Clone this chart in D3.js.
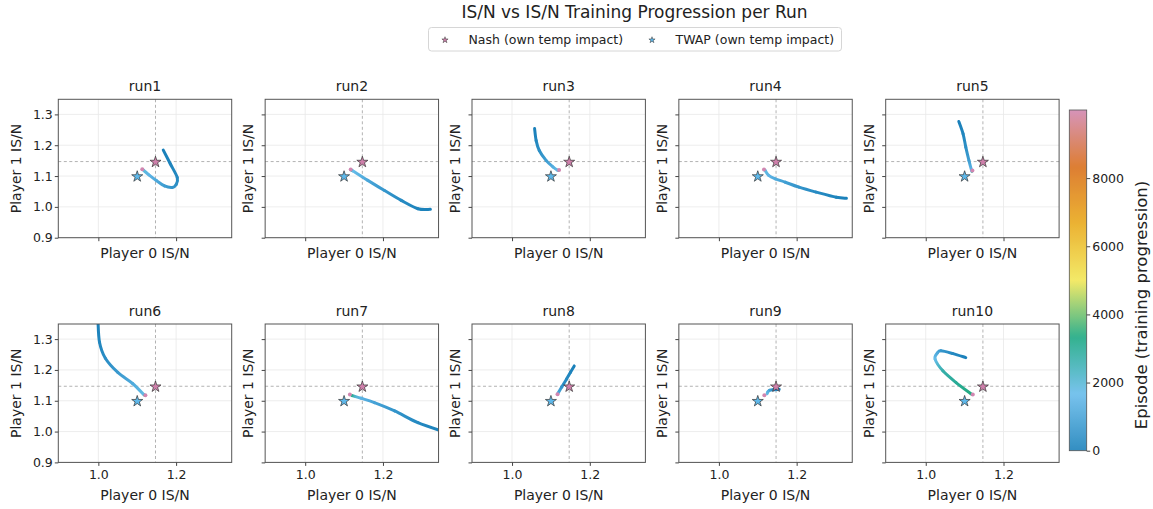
<!DOCTYPE html>
<html><head><meta charset="utf-8">
<script src="https://cdn.jsdelivr.net/npm/d3@7"></script>
<style>body{margin:0;background:#fff;} text{font-family:"DejaVu Sans",sans-serif;fill:#222;}</style>
</head><body><svg id="c" width="1153" height="509"></svg>
<script>
// ---------------- data ----------------
const runNames = ["run1","run2","run3","run4","run5","run6","run7","run8","run9","run10"];
// each point: [player0 IS/N, player1 IS/N, episode]
const run1 = [[1.167,1.184,0],[1.185,1.140,100],[1.203,1.095,250],[1.200,1.072,400],[1.190,1.063,550],[1.170,1.068,800],[1.150,1.085,1100],[1.130,1.104,1450],[1.116,1.119,1900],[1.114,1.121,3000],[1.113,1.122,9999]];
const run2 = [[1.322,0.992,0],[1.290,0.994,100],[1.247,1.021,300],[1.204,1.053,600],[1.161,1.086,1050],[1.122,1.117,1700],[1.119,1.119,3000],[1.117,1.121,9999]];
const run3 = [[1.058,1.254,0],[1.062,1.215,150],[1.070,1.183,400],[1.088,1.150,800],[1.105,1.130,1250],[1.117,1.119,1800],[1.119,1.119,3000],[1.121,1.120,9999]];
const run4 = [[1.328,1.028,0],[1.302,1.031,100],[1.250,1.048,300],[1.206,1.064,550],[1.171,1.080,850],[1.145,1.091,1150],[1.128,1.102,1450],[1.119,1.118,1850],[1.117,1.120,3000],[1.116,1.121,9999]];
const run5 = [[1.085,1.277,0],[1.096,1.237,150],[1.103,1.194,400],[1.111,1.151,800],[1.118,1.118,1500],[1.119,1.117,3000],[1.120,1.118,9999]];
const run6 = [[0.999,1.360,0],[1.003,1.290,150],[1.018,1.238,350],[1.050,1.192,700],[1.088,1.156,1150],[1.116,1.121,1800],[1.118,1.119,3000],[1.121,1.118,9999]];
const run7 = [[1.360,0.998,0],[1.290,1.029,250],[1.230,1.067,550],[1.178,1.094,950],[1.144,1.108,1400],[1.128,1.114,2100],[1.120,1.117,3200],[1.115,1.120,9999]];
const run8 = [[1.160,1.213,0],[1.150,1.192,100],[1.140,1.170,250],[1.128,1.145,500],[1.118,1.124,1100],[1.117,1.121,9999]];
const run9 = [[1.155,1.137,0],[1.140,1.136,300],[1.130,1.134,800],[1.126,1.129,1300],[1.124,1.123,1800],[1.117,1.118,9999]];
const run10 = [[1.103,1.240,0],[1.070,1.253,250],[1.039,1.262,600],[1.030,1.255,1100],[1.024,1.235,1700],[1.044,1.197,2700],[1.078,1.159,3000],[1.118,1.121,3400],[1.121,1.120,9999]];
const runs = [run1,run2,run3,run4,run5,run6,run7,run8,run9,run10];

const nashPoint = [1.147, 1.147];
const twapPoint = [1.100, 1.100];
const xTicks = [1.0, 1.2];
const yTicks = [0.9, 1.0, 1.1, 1.2, 1.3];
const cbTicks = [0, 2000, 4000, 6000, 8000];
const episodeMax = 9999;
const cmapColors = ["#0072B2","#56B4E9","#009E73","#F0E442","#E69F00","#D55E00","#CC79A7"];
const legendLabels = ["Nash (own temp impact)", "TWAP (own temp impact)"];

// ---------------- rendering ----------------
const svg = d3.select("#c");
const defs = svg.append("defs");
const cmap = d3.scaleLinear()
  .domain(cmapColors.map((c,i)=> i/(cmapColors.length-1)*episodeMax))
  .range(cmapColors).interpolate(d3.interpolateRgb);
const colorA = a => ep => d3.interpolateRgb("#ffffff", cmap(ep))(a);
const lineColor = colorA(0.9);
const cbColor = colorA(0.8);
const nashColor = d3.interpolateRgb("#ffffff","#CC79A7")(0.95);
const twapColor = d3.interpolateRgb("#ffffff","#56B4E9")(0.95);

const W = 173.4, H = 138.4;
const colLeft = c => 58.3 + c*206.85;
const rowTop = r => 99.3 + r*224.7;
const x = d3.scaleLinear().domain([0.897, 1.343]).range([0, W]);
const y = d3.scaleLinear().domain([0.9, 1.349]).range([H, 0]);
const star = d3.symbol().type(d3.symbolStar);

svg.append("text").attr("x", 634.5).attr("y", 18).attr("text-anchor","middle")
  .attr("font-size", 17).text("IS/N vs IS/N Training Progression per Run");

runs.forEach((run, k) => {
  const r = Math.floor(k/5), c = k%5;
  const g = svg.append("g").attr("transform", `translate(${colLeft(c)},${rowTop(r)})`);
  const clipId = "clip"+k;
  defs.append("clipPath").attr("id", clipId).append("rect").attr("width", W).attr("height", H);

  // grid
  g.selectAll(".gx").data(xTicks).join("line")
    .attr("x1", d=>x(d)).attr("x2", d=>x(d)).attr("y1",0).attr("y2",H)
    .attr("stroke","#e8e8e8").attr("stroke-width",0.8);
  g.selectAll(".gy").data(yTicks).join("line")
    .attr("y1", d=>y(d)).attr("y2", d=>y(d)).attr("x1",0).attr("x2",W)
    .attr("stroke","#e8e8e8").attr("stroke-width",0.8);
  // nash reference lines
  g.append("line").attr("x1", x(nashPoint[0])).attr("x2", x(nashPoint[0])).attr("y1",0).attr("y2",H)
    .attr("stroke","#b3b3b3").attr("stroke-width",1).attr("stroke-dasharray","3,2.5");
  g.append("line").attr("y1", y(nashPoint[1])).attr("y2", y(nashPoint[1])).attr("x1",0).attr("x2",W)
    .attr("stroke","#b3b3b3").attr("stroke-width",1).attr("stroke-dasharray","3,2.5");

  // trajectory
  const tg = g.append("g").attr("clip-path", `url(#${clipId})`);
  const line = run.slice(0, run.length-1).map(d => [x(d[0]), y(d[1]), d[2]]);
  const n = line.length;
  for (let i = 0; i < n-1; i++) {
    const p0 = line[Math.max(0,i-1)], p1 = line[i], p2 = line[i+1], p3 = line[Math.min(n-1,i+2)];
    const c1 = [p1[0] + (p2[0]-p0[0])/6, p1[1] + (p2[1]-p0[1])/6];
    const c2 = [p2[0] - (p3[0]-p1[0])/6, p2[1] - (p3[1]-p1[1])/6];
    const gid = `gr${k}_${i}`;
    const lg = defs.append("linearGradient").attr("id", gid).attr("gradientUnits","userSpaceOnUse")
      .attr("x1", p1[0]).attr("y1", p1[1]).attr("x2", p2[0]).attr("y2", p2[1]);
    lg.append("stop").attr("offset", 0).attr("stop-color", lineColor(p1[2]));
    lg.append("stop").attr("offset", 1).attr("stop-color", lineColor(p2[2]));
    tg.append("path")
      .attr("d", `M${p1[0]},${p1[1]}C${c1[0]},${c1[1]} ${c2[0]},${c2[1]} ${p2[0]},${p2[1]}`)
      .attr("fill","none").attr("stroke", `url(#${gid})`).attr("stroke-width", 3)
      .attr("stroke-linecap","round");
  }
  const last = run[run.length-1];
  tg.append("circle").attr("cx", x(last[0])).attr("cy", y(last[1])).attr("r", 2)
    .attr("fill", lineColor(last[2]));

  // stars
  g.append("path").attr("d", star.size(38)()).attr("transform", `translate(${x(nashPoint[0])},${y(nashPoint[1])+0.5})`)
    .attr("fill", nashColor).attr("stroke","#333").attr("stroke-width",0.7);
  g.append("path").attr("d", star.size(38)()).attr("transform", `translate(${x(twapPoint[0])},${y(twapPoint[1])+0.5})`)
    .attr("fill", twapColor).attr("stroke","#333").attr("stroke-width",0.7);

  // frame
  g.append("rect").attr("width", W).attr("height", H).attr("fill","none").attr("stroke","#555").attr("stroke-width",1);

  // axes
  const ax = g.append("g").attr("transform", `translate(0,${H})`)
    .call(d3.axisBottom(x).tickValues(xTicks).tickSize(3.5).tickPadding(4.5)
      .tickFormat(r===1 ? d3.format(".1f") : ""));
  const ay = g.append("g")
    .call(d3.axisLeft(y).tickValues(yTicks).tickSize(3.5).tickPadding(2)
      .tickFormat(c===0 ? d3.format(".1f") : ""));
  [ax, ay].forEach(a => {
    a.select(".domain").remove();
    a.selectAll("line").attr("stroke","#444");
    a.selectAll("text").attr("font-size", 12.5).attr("font-family","DejaVu Sans").attr("fill","#222");
    a.attr("font-family", null).attr("font-size", null);
  });

  // titles & labels
  g.append("text").attr("x", W/2).attr("y", -8.3).attr("text-anchor","middle").attr("font-size",14).text(runNames[k]);
  g.append("text").attr("x", W/2).attr("y", r===0 ? H+20.3 : H+37.9).attr("text-anchor","middle")
    .attr("font-size",14).text("Player 0 IS/N");
  const ylx = c===0 ? -37.1 : -12;
  g.append("text").attr("transform", `translate(${ylx},${H/2}) rotate(-90)`).attr("text-anchor","middle")
    .attr("font-size",14).text("Player 1 IS/N");
});

// legend
const lgd = svg.append("g");
lgd.append("rect").attr("x", 428.5).attr("y", 27.5).attr("width", 413).attr("height", 23.5).attr("rx", 3)
  .attr("fill","#fff").attr("stroke","#d6d6d6").attr("stroke-width",1);
const legendX = [445, 652];
const legendColors = [nashColor, twapColor];
legendLabels.forEach((t,i) => {
  lgd.append("path").attr("d", star.size(12)()).attr("transform", `translate(${legendX[i]},${40})`)
    .attr("fill", legendColors[i]).attr("stroke","#333").attr("stroke-width",0.5);
  lgd.append("text").attr("x", legendX[i]+23.5).attr("y", 44.3).attr("font-size", 12.5).text(t);
});

// colorbar
const cbX = 1069.3, cbTop = 110, cbBottom = 450.7, cbW = 17.4;
const cbScale = d3.scaleLinear().domain([0, episodeMax]).range([cbBottom, cbTop]);
const cg = defs.append("linearGradient").attr("id","cbgrad").attr("x1",0).attr("y1",1).attr("x2",0).attr("y2",0);
d3.range(0, 101).forEach(i => cg.append("stop").attr("offset", i/100).attr("stop-color", cbColor(i/100*episodeMax)));
svg.append("rect").attr("x", cbX).attr("y", cbTop).attr("width", cbW).attr("height", cbBottom-cbTop)
  .attr("fill","url(#cbgrad)").attr("stroke","#555").attr("stroke-width",0.8);
const cax = svg.append("g").attr("transform", `translate(${cbX+cbW},0)`)
  .call(d3.axisRight(cbScale).tickValues(cbTicks).tickSize(3.5).tickPadding(2).tickFormat(d3.format("d")));
cax.select(".domain").remove();
cax.selectAll("line").attr("stroke","#444");
cax.selectAll("text").attr("font-size",12.5).attr("font-family","DejaVu Sans").attr("fill","#222");
cax.attr("font-family", null).attr("font-size", null);
svg.append("text").attr("transform", `translate(1146.5,305) rotate(-90)`).attr("text-anchor","middle")
  .attr("font-size",16.5).text("Episode (training progression)");
</script></body></html>
